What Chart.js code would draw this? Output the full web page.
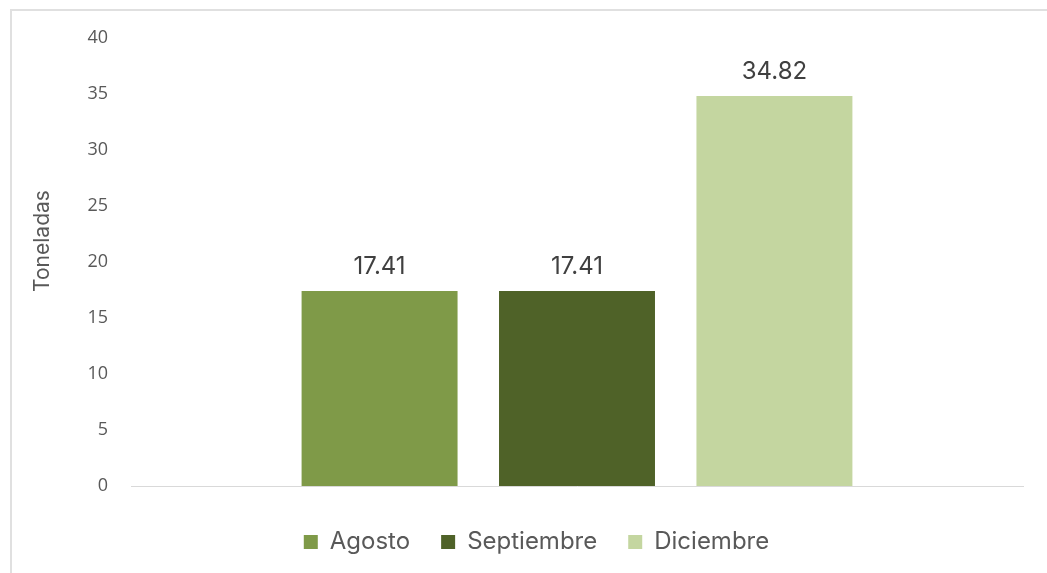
<!DOCTYPE html>
<html><head><meta charset="utf-8">
<script src="https://cdn.jsdelivr.net/npm/chart.js@4"></script>
<style>
html,body{margin:0;padding:0;background:#fff;overflow:hidden;}
#frame{position:absolute;left:10px;top:9px;width:1100px;height:600px;border:2px solid #e0e0e0;box-sizing:border-box;}
#wrap{position:absolute;left:0;top:0;width:1047px;height:573px;}
</style></head>
<body>
<div id="frame"></div>
<div id="wrap"><canvas id="c" width="1047" height="573"></canvas></div>
<script>
const categories = [""];
const seriesNames = ["Agosto", "Septiembre", "Diciembre"];
const seriesValues = [[17.41], [17.41], [34.82]];
const seriesColors = ["#7F9A48", "#4F6228", "#C4D6A0"];
const yTicks = [0, 5, 10, 15, 20, 25, 30, 35, 40];
const yTitle = "Toneladas";

const textFont = 'Inter, "Open Sans", sans-serif';

const labelPlugin = {
  id: 'barLabels',
  afterDatasetsDraw(chart) {
    const ctx = chart.ctx;
    ctx.save();
    ctx.font = '24px ' + textFont;
    ctx.fillStyle = '#404040';
    ctx.textAlign = 'center';
    ctx.textBaseline = 'middle';
    chart.data.datasets.forEach((ds, i) => {
      const meta = chart.getDatasetMeta(i);
      meta.data.forEach((bar, j) => {
        ctx.fillText(ds.data[j].toFixed(2), bar.x, bar.y - 24);
      });
    });
    // y axis title
    ctx.font = '21px ' + textFont;
    ctx.fillStyle = '#595959';
    ctx.translate(43, 241);
    ctx.rotate(-Math.PI / 2);
    ctx.fillText(yTitle, 0, 0);
    ctx.restore();
  }
};

new Chart(document.getElementById('c'), {
  type: 'bar',
  data: {
    labels: categories,
    datasets: seriesNames.map((n, i) => ({
      label: n,
      data: seriesValues[i],
      backgroundColor: seriesColors[i],
      categoryPercentage: 0.664,
      barPercentage: 0.79
    }))
  },
  options: {
    responsive: false,
    animation: false,
    layout: { padding: { left: 50, right: 24, top: 38, bottom: 9 } },
    plugins: {
      legend: {
        position: 'bottom',
        labels: {
          boxWidth: 14, boxHeight: 14, padding: 31,
          color: '#595959',
          font: { family: textFont, size: 24 }
        }
      },
      tooltip: { enabled: false }
    },
    scales: {
      x: {
        afterFit(s) { s.height = 13; },
        grid: { display: false },
        border: { display: true, color: '#d9d9d9', width: 1 },
        ticks: { display: false }
      },
      y: {
        min: 0, max: 40,
        afterBuildTicks(s) { s.ticks = yTicks.map(v => ({ value: v })); },
        afterFit(s) { s.width = 81; },
        grid: { display: false },
        border: { display: false },
        ticks: { padding: 15, color: '#595959', font: { family: '"Open Sans", sans-serif', size: 18 } }
      }
    }
  },
  plugins: [labelPlugin]
});
</script>
</body></html>
